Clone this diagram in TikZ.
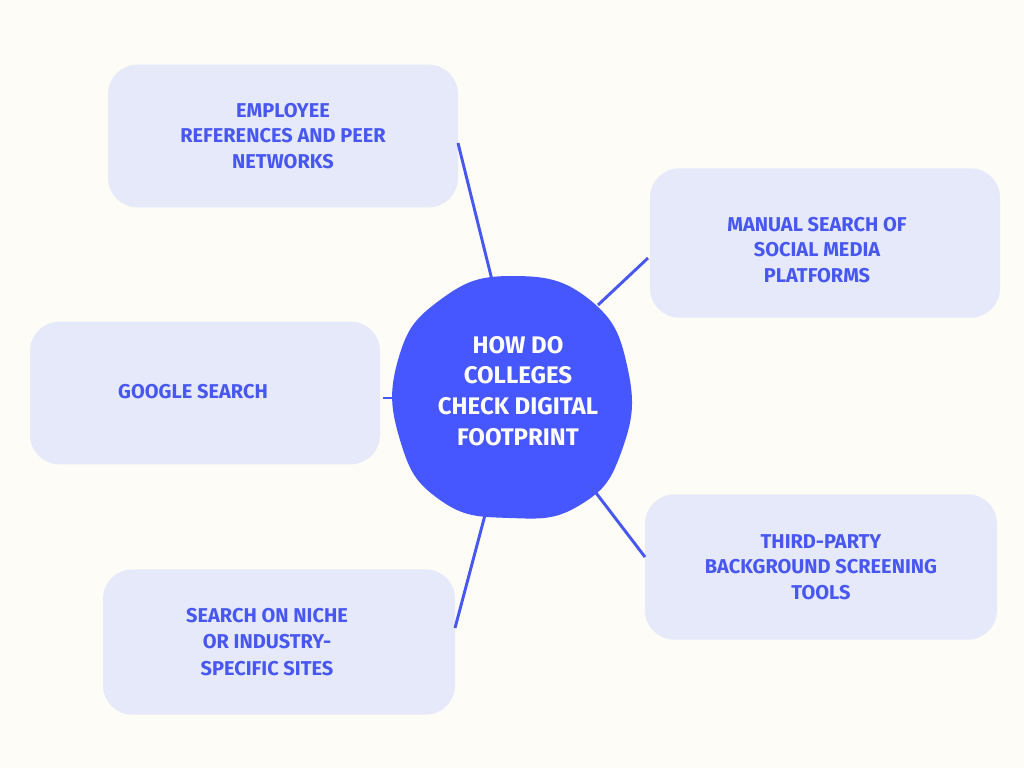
\documentclass[tikz,border=0pt]{standalone}
\usepackage{fontspec}
\setmainfont{Fira Sans}
\definecolor{bg}{HTML}{FDFCF6}
\definecolor{boxc}{HTML}{E6E9FA}
\definecolor{txt}{HTML}{4757F0}
\definecolor{hub}{HTML}{4757FF}
\begin{document}
\begin{tikzpicture}[x=0.75pt,y=-0.75pt,
  box/.style={fill=boxc,rounded corners=22pt,align=center,text=txt,font=\fontsize{15}{19}\selectfont\bfseries,inner sep=0pt},
  link/.style={draw=txt,line width=2.2pt}]
\fill[bg] (0,0) rectangle (1024,768);
\useasboundingbox (0,0) rectangle (1024,768);
\node[box,minimum width=262.5pt,minimum height=107pt] (e) at (283,136) {EMPLOYEE\\REFERENCES AND PEER\\NETWORKS};
\node[box,minimum width=262.5pt,minimum height=112pt] (m) at (825,243) {};
\node[text=txt,font=\fontsize{15}{19}\selectfont\bfseries,align=center] at (817,250) {MANUAL SEARCH OF\\SOCIAL MEDIA\\PLATFORMS};
\node[box,minimum width=262.5pt,minimum height=107pt] (g) at (205,393) {};
\node[text=txt,font=\fontsize{15}{19}\selectfont\bfseries] at (193,392) {GOOGLE SEARCH};
\node[box,minimum width=264pt,minimum height=109pt] (t) at (821,567) {THIRD-PARTY\\BACKGROUND SCREENING\\TOOLS};
\node[box,minimum width=264pt,minimum height=109pt] (s) at (279,642) {};
\node[text=txt,font=\fontsize{15}{20}\selectfont\bfseries,align=center] at (267,642) {SEARCH ON NICHE\\OR INDUSTRY-\\SPECIFIC SITES};
\fill[hub] plot[smooth cycle,tension=0.8] coordinates {(512,276) (590,300) (628,370) (622,450) (580,505) (510,518) (440,500) (400,440) (398,360) (440,300)};
\node[text=white,font=\fontsize{18}{23}\selectfont\bfseries,align=center] (c) at (518,391) {HOW DO\\COLLEGES\\CHECK DIGITAL\\FOOTPRINT};
\coordinate (e1) at (458,143); \coordinate (e2) at (492,280);
\coordinate (m1) at (598,305); \coordinate (m2) at (648,258);
\coordinate (g1) at (383,398); \coordinate (g2) at (398,398);
\coordinate (t1) at (590,485); \coordinate (t2) at (645,557);
\coordinate (s1) at (485,515); \coordinate (s2) at (455,628);
\draw[link] (e1)--(e2); \draw[link] (m1)--(m2); \draw[link] (g1)--(g2);
\draw[link] (t1)--(t2); \draw[link] (s1)--(s2);
\end{tikzpicture}
\end{document}
